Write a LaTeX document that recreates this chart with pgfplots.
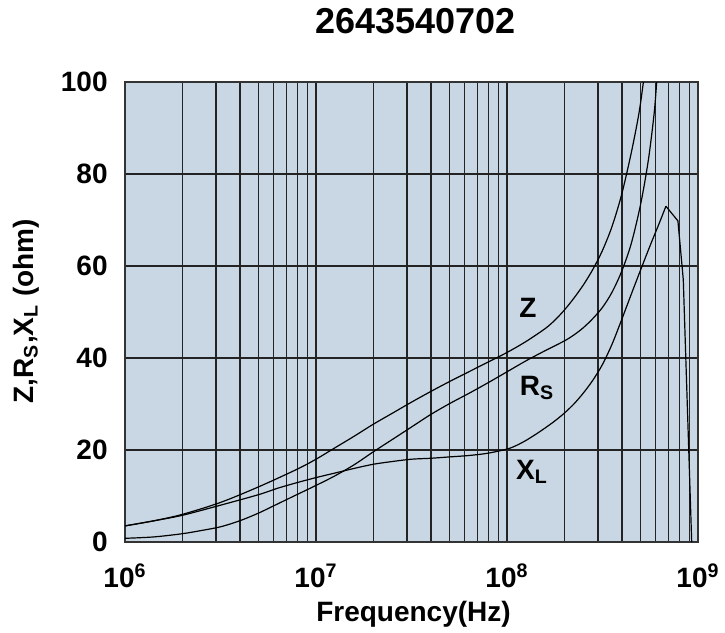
\documentclass[border=0pt]{standalone}
\usepackage{fontspec}
\setmainfont{Liberation Sans}
\usepackage{pgfplots}
\pgfplotsset{compat=1.18}

\definecolor{bgblue}{RGB}{200,215,227}
\definecolor{gridc}{RGB}{35,35,35}

% curves (x in Hz, y in ohm)
\pgfplotstableread{
f        v
1e6      3.5
1.413e6  4.6
1.995e6  6.0
3.162e6  8.6
5.012e6  12.0
7.943e6  15.8
1e7      18.0
1.259e7  20.5
1.585e7  23.0
1.995e7  25.6
2.512e7  28.0
3.162e7  30.4
3.981e7  32.7
5.012e7  34.9
6.310e7  37.0
7.943e7  39.1
1e8      41.2
1.259e8  43.6
1.585e8  46.4
1.778e8  48.2
1.995e8  50.4
2.239e8  53.0
2.512e8  55.9
2.818e8  59.3
3.162e8  63.4
3.548e8  68.6
3.981e8  75.5
4.467e8  84.5
4.898e8  93.0
5.176e8  100
5.370e8  106
}\Zdata

\pgfplotstableread{
f        v
1e6      0.8
1.413e6  1.1
1.995e6  1.8
2.512e6  2.5
3.162e6  3.3
3.981e6  4.6
5.012e6  6.3
6.310e6  8.3
7.943e6  10.3
1e7      12.3
1.259e7  14.4
1.585e7  16.8
1.995e7  19.6
2.512e7  22.3
3.162e7  25.0
3.981e7  27.7
5.012e7  30.1
6.310e7  32.3
7.943e7  34.6
1e8      37.0
1.259e8  39.4
1.585e8  41.6
1.995e8  43.7
2.239e8  45.0
2.512e8  46.6
2.818e8  48.6
3.162e8  51.0
3.548e8  54.3
3.981e8  58.8
4.467e8  64.8
5.012e8  73.5
5.495e8  83.0
5.888e8  93.0
6.081e8  100
6.310e8  108
}\Rdata

% rising part of X_L (smooth)
\pgfplotstableread{
f        v
1e6      3.5
1.413e6  4.6
1.995e6  5.8
3.162e6  8.0
5.012e6  10.3
6.310e6  11.7
7.943e6  12.9
1e7      14.0
1.259e7  15.0
1.585e7  16.0
1.995e7  16.9
2.512e7  17.5
3.162e7  18.0
3.981e7  18.2
5.012e7  18.5
6.310e7  18.8
7.943e7  19.3
1e8      20.2
1.122e8  21.0
1.259e8  22.1
1.413e8  23.4
1.585e8  24.8
1.778e8  26.3
1.995e8  28.0
2.239e8  30.0
2.512e8  32.4
2.818e8  35.2
3.162e8  38.6
3.548e8  43.0
3.981e8  48.3
4.467e8  53.8
5.012e8  59.2
5.623e8  64.5
6.310e8  69.6
6.792e8  73.0
}\Xdata

% peak and drop of X_L (straight segments)
\pgfplotstableread{
f        v
6.792e8  73.0
7.852e8  69.8
8.375e8  57.0
9.268e8  0
}\Xdrop

\begin{document}
\begin{tikzpicture}
\useasboundingbox (-62.5pt,-45.5pt) rectangle (300pt,271pt);
\begin{axis}[
  scale only axis,
  width=286.5pt, height=230pt,
  xmode=log, log basis x=10,
  xmin=1e6, xmax=1e9,
  ymin=0, ymax=100,
  ytick={0,20,...,100},
  yticklabels={0,20,40,60,80,100},
  xtick={1e6,1e7,1e8,1e9},
  minor xtick={2e6,3e6,4e6,5e6,6e6,7e6,8e6,9e6,
               2e7,3e7,4e7,5e7,6e7,7e7,8e7,9e7,
               2e8,3e8,4e8,5e8,6e8,7e8,8e8,9e8},
  xticklabel={\pgfmathparse{int(round(\tick))}10\textsuperscript{\pgfmathresult}},
  font=\fontsize{14}{16}\selectfont\bfseries,
  xticklabel style={anchor=base, inner sep=0pt, yshift=-23pt},
  yticklabel style={anchor=east, inner sep=0pt, xshift=-8.5pt},
  major tick length=0pt, minor tick length=0pt,
  xmajorgrids, xminorgrids, ymajorgrids,
  major grid style={gridc, line width=0.7pt},
  minor grid style={gridc, line width=0.7pt},
  axis line style={black!80, line width=1.1pt},
  axis background/.style={fill=bgblue},
  title={2643540702},
  title style={at={(0.5,1)}, anchor=base, yshift=18.5pt, xshift=2pt,
    font=\fontsize{18}{20}\selectfont\bfseries},
  xlabel={Frequency(Hz)},
  xlabel style={at={(0.5,0)}, anchor=base, yshift=-40pt, xshift=1pt},
  ylabel={Z,R\textsubscript{S},X\textsubscript{L} (ohm)},
  ylabel style={at={(axis description cs:-0.1728,0.502)}, anchor=center},
]
\addplot[black, no marks, line width=0.6pt, smooth] table[x=f, y=v] {\Zdata};
\addplot[black, no marks, line width=0.6pt, smooth] table[x=f, y=v] {\Rdata};
\addplot[black, no marks, line width=0.6pt, smooth] table[x=f, y=v] {\Xdata};
\addplot[black, no marks, line width=0.6pt, sharp plot] table[x=f, y=v] {\Xdrop};
\node[font=\fontsize{14}{16}\selectfont\bfseries] at (axis cs:1.288e8,50.9) {Z};
\node[font=\fontsize{14}{16}\selectfont\bfseries] at (axis cs:1.436e8,33.5) {R\textsubscript{S}};
\node[font=\fontsize{14}{16}\selectfont\bfseries] at (axis cs:1.352e8,15.2) {X\textsubscript{L}};
\end{axis}
\end{tikzpicture}
\end{document}
